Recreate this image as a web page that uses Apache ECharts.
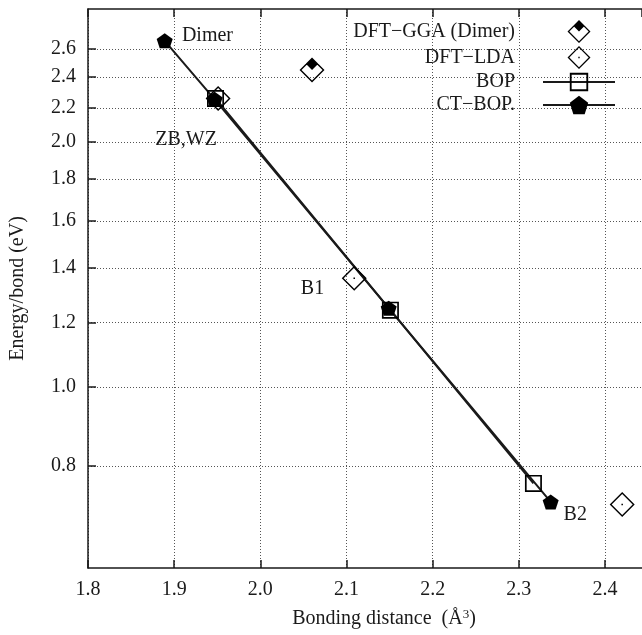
<!DOCTYPE html>
<html>
<head>
<meta charset="utf-8">
<script src="https://cdn.jsdelivr.net/npm/echarts@6.0.0/dist/echarts.min.js"></script>
<style>
    html, body { margin: 0; padding: 0; background: #fff; }
    #chart { width: 642px; height: 635px; }
</style>
</head>
<body>
<div id="chart"></div>
<script>
// 数据
const ggaDimer = [[2.06, 2.45]]
const dftLda = [[1.951, 2.26], [2.109, 1.36], [2.42, 0.718]]
const bop = [[1.948, 2.26], [2.151, 1.243], [2.317, 0.762]]
const ctBop = [[1.889, 2.66], [1.947, 2.255], [2.149, 1.25], [2.337, 0.723]]
const noteNames = ['Dimer', 'ZB,WZ', 'B1', 'B2']
const noteX = [1.909, 1.878, 2.047, 2.352]
const noteY = [2.70, 2.01, 1.319, 0.697]
const yTicks = [0.8, 1.0, 1.2, 1.4, 1.6, 1.8, 2.0, 2.2, 2.4, 2.6]
const legendNames = ['DFT\u2212GGA (Dimer)', 'DFT\u2212LDA', 'BOP', 'CT\u2212BOP.']

// 符号: 用 nonzero 填充规则做出空心环
const diamondRing = 'M50 0 L100 50 L50 100 L0 50 Z M50 8 L8 50 L50 92 L92 50 Z'
const symGga = 'path://' + diamondRing + ' M50 0 L75 25 L50 50 L25 25 Z'
const symLda = 'path://' + diamondRing + ' M47 47 L53 47 L53 53 L47 53 Z'
const symSquare = 'path://M0 0 L100 0 L100 100 L0 100 Z M10 10 L10 90 L90 90 L90 10 Z'
const symPenta = 'path://M50 0 L97.55 34.55 L79.39 90.45 L20.61 90.45 L2.45 34.55 Z'

const font = 'Liberation Serif'
const ink = '#1a1a1a'
const dots = { show: true, lineStyle: { color: '#555', width: 1, type: [1, 2] } }

let chart = echarts.init(document.getElementById('chart'))
chart.setOption({
    animation: false,
    textStyle: { fontFamily: font, color: ink },
    grid: { left: 88, top: 9, width: 554, height: 559 },
    legend: {
        data: legendNames,
        orient: 'vertical',
        align: 'right',
        right: 26,
        top: 20,
        padding: 0,
        itemWidth: 72,
        itemHeight: 23,
        itemGap: 3,
        selectedMode: false,
        textStyle: { fontFamily: font, fontSize: 20, color: ink, padding: [0, 23, 0, 0] }
    },
    xAxis: [{
        type: 'value',
        min: 1.8,
        max: 2.443,
        interval: 0.1,
        name: 'Bonding distance  (\u00c5{sup|3})',
        nameLocation: 'middle',
        nameGap: 40,
        nameTextStyle: {
            fontFamily: font, fontSize: 20, color: ink, padding: [0, 0, 0, 38],
            rich: { sup: { fontFamily: font, fontSize: 13, color: ink, padding: [0, 0, 9, 0] } }
        },
        axisLine: { lineStyle: { color: ink, width: 1.5 } },
        axisTick: { inside: true, length: 8, lineStyle: { color: ink, width: 1.5 } },
        axisLabel: { fontFamily: font, fontSize: 20, color: ink, margin: 12, showMaxLabel: false, formatter: v => v.toFixed(1) },
        splitLine: dots
    }, {
        // 上边框的刻度
        type: 'value',
        position: 'top',
        min: 1.8,
        max: 2.443,
        interval: 0.1,
        axisLine: { lineStyle: { color: ink, width: 1.5 } },
        axisTick: { inside: true, length: 8, lineStyle: { color: ink, width: 1.5 } },
        axisLabel: { show: false },
        splitLine: { show: false }
    }],
    yAxis: {
        type: 'log',
        min: 0.6,
        max: 2.91,
        name: 'Energy/bond (eV)',
        nameLocation: 'middle',
        nameGap: 60,
        nameTextStyle: { fontFamily: font, fontSize: 20, color: ink },
        axisLine: { show: true, lineStyle: { color: ink, width: 1.5 } },
        axisTick: { inside: true, length: 8, customValues: yTicks, lineStyle: { color: ink, width: 1.5 } },
        axisLabel: { fontFamily: font, fontSize: 20, color: ink, margin: 12, customValues: yTicks, formatter: v => v.toFixed(1) },
        splitLine: dots
    },
    series: [
        {
            name: legendNames[0],
            type: 'scatter',
            data: ggaDimer,
            symbol: symGga,
            symbolSize: 25,
            symbolKeepAspect: true,
            itemStyle: { color: '#000', opacity: 1 },
            z: 4
        },
        {
            name: legendNames[1],
            type: 'scatter',
            data: dftLda,
            symbol: symLda,
            symbolSize: 25,
            symbolKeepAspect: true,
            itemStyle: { color: '#000', opacity: 1 },
            z: 4
        },
        {
            name: legendNames[2],
            type: 'line',
            data: bop,
            symbol: symSquare,
            symbolSize: 17,
            showAllSymbol: true,
            itemStyle: { color: '#000' },
            lineStyle: { color: ink, width: 2 },
            z: 3
        },
        {
            name: legendNames[3],
            type: 'line',
            data: ctBop,
            symbol: symPenta,
            symbolSize: [16, 15],
            showAllSymbol: true,
            itemStyle: { color: '#000' },
            lineStyle: { color: ink, width: 2 },
            z: 3
        },
        {
            // 文字标注
            type: 'scatter',
            silent: true,
            symbolSize: 0,
            itemStyle: { color: ink, opacity: 1 },
            data: noteNames.map((n, i) => ({ name: n, value: [noteX[i], noteY[i]] })),
            label: {
                show: true,
                position: 'right',
                distance: 0,
                formatter: '{b}',
                fontFamily: font,
                fontSize: 20,
                color: ink,
                opacity: 1
            },
            z: 5
        }
    ]
})
</script>
</body>
</html>
